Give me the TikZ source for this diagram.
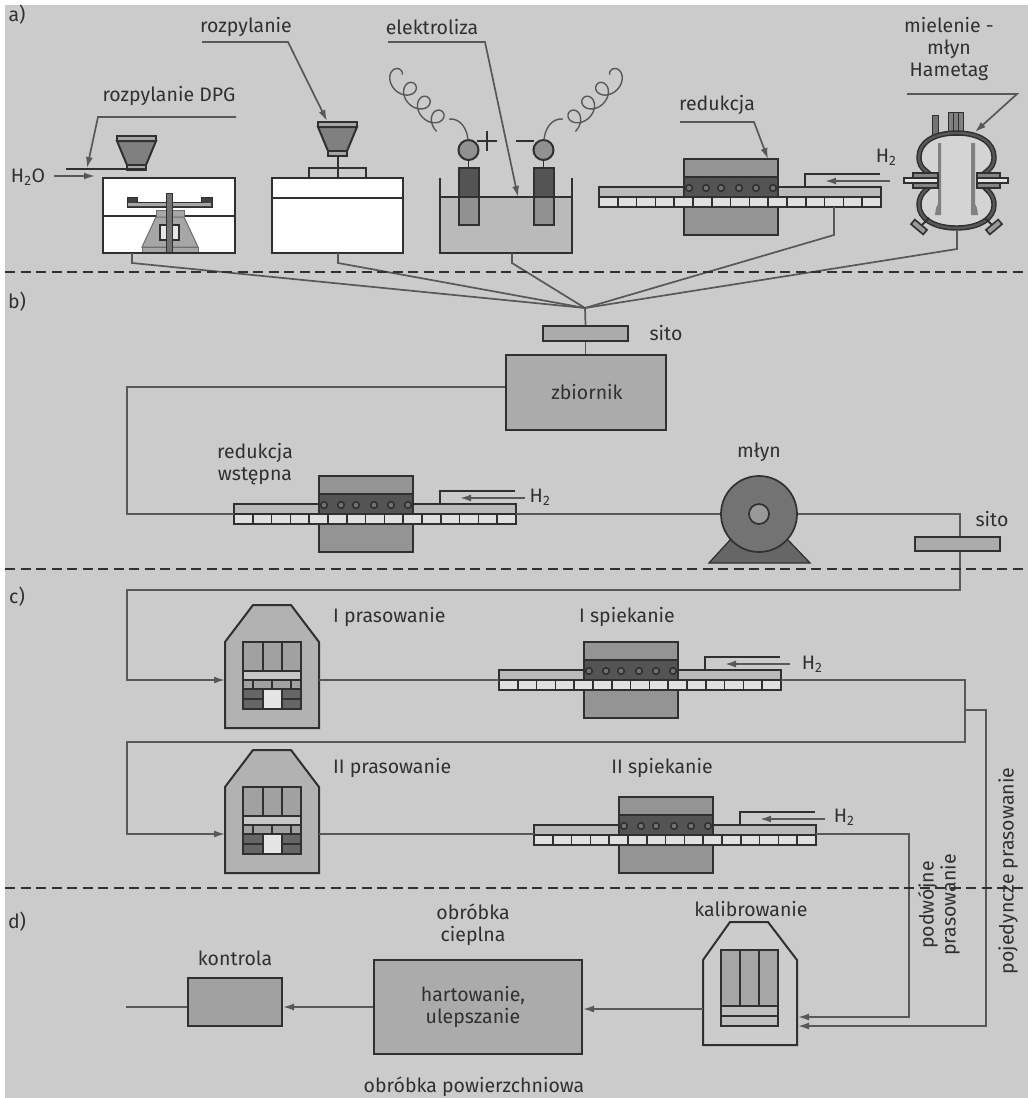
\documentclass[tikz,border=0pt]{standalone}
\usepackage{fontspec}
\setmainfont{Fira Sans}
\usetikzlibrary{arrows.meta}
\definecolor{bgc}{HTML}{CBCBCB}
\definecolor{ink}{HTML}{303030}
\definecolor{wire}{HTML}{585858}
\tikzset{
 x=1pt,y=-1pt,
 lbl/.style={font=\fontsize{19.5}{22}\selectfont,text=ink,inner sep=0pt,align=center},
 lblm/.style={lbl,font=\fontsize{19.5}{22}\selectfont},
 wirel/.style={draw=wire,line width=1.7pt,line join=miter},
 arr/.style={wirel,-{Latex[length=11pt,width=7pt]}},
 part/.style={draw=ink,line width=2pt,line join=miter},
 thin part/.style={draw=ink,line width=1.6pt},
 boxa/.style={part,fill=#1,inner sep=0pt},
 furnace/.pic={
  \filldraw[part,fill=black!42] (85,-38) rectangle (179,38);
  \filldraw[part,fill=black!27] (0,-10) rectangle (282,0);
  \filldraw[part,fill=black!67] (85,-20) rectangle (179,0);
  \foreach \cx in {90,107,122,140,157,174} \draw[line width=1.6pt,draw=ink,fill=black!55] (\cx,-9) circle (3.3);
  \filldraw[part,fill=black!12] (0,0) rectangle (282,10);
  \foreach \i in {1,...,14} \draw[thin part] ({\i*18.8},0) -- ({\i*18.8},10);
  \draw[part] (206,-10) -- (206,-23) -- (281,-23);
  \draw[arr] (291,-16) -- (226,-16);
 },
 press/.pic={
  \filldraw[part,fill=black!30] (0,48) -- (0,-38) -- (28,-75) -- (66,-75) -- (94,-38) -- (94,48) -- cycle;
  \filldraw[part,fill=black!37] (18,-38) rectangle (76,29);
  \draw[part] (38,-38) -- (38,-9) (57,-38) -- (57,-9) (18,-9) -- (76,-9);
  \fill[black!22] (19,-8) rectangle (75,0);
  \draw[thin part] (18,0) -- (76,0) (18,9) -- (76,9) (28,0) -- (28,9) (47,0) -- (47,9) (66,0) -- (66,9);
  \filldraw[thin part,fill=black!60] (18,9) rectangle (38,19);
  \filldraw[thin part,fill=black!60] (18,19) rectangle (38,29);
  \filldraw[thin part,fill=black!60] (57,9) rectangle (76,19);
  \filldraw[thin part,fill=black!60] (57,19) rectangle (76,29);
  \fill[black!10] (39,10) rectangle (56,28);
  \draw[part] (18,-38) rectangle (76,29);
 },
 hopper/.pic={
  \filldraw[part,fill=black!50] (0,5) -- (39,5) -- (29,29) -- (10,29) -- cycle;
  \filldraw[thin part,fill=black!35] (0,0) rectangle (39,5);
  \filldraw[thin part,fill=black!35] (10,29) rectangle (29,34);
 },
 coil/.pic={
  \draw[wire,line width=1.4pt] (468,140) .. controls (467,128) and (460,118) .. (449,119);
  \draw[wire,line width=1.4pt,smooth] plot[domain=-90:1210,samples=220]
   ({443 - 0.0385*(\x+90) - 10*cos(\x)*0.71 + 9*sin(\x)*0.71},
    {125 - 0.0385*(\x+90) - 10*cos(\x)*0.71 - 9*sin(\x)*0.71});
 }
}
\begin{document}
\begin{tikzpicture}
\useasboundingbox (0,0) rectangle (1028,1098);
\fill[white] (0,0) rectangle (1028,1098);
\fill[bgc] (5,5) rectangle (1028,1098);

% ---------- named junctions
\coordinate (conv) at (585,308);

% ---------- a) DPG atomiser
\node[part,fill=white,minimum width=132pt,minimum height=75pt,inner sep=0pt] (dpg) at (169,215.5) {};
\draw[part] (103,216) -- (235,216);
\pic at (117,136) {hopper};
\coordinate (dpgshelfL) at (66,169);
\coordinate (dpgshelfR) at (146,169);
\draw[part] (dpgshelfL) -- (dpgshelfR);
% mechanism
\filldraw[draw=ink!70,line width=1pt,fill=black!35] (156,210) rectangle (184,217);
\filldraw[draw=ink!70,line width=1pt,fill=black!35] (156,217) -- (184,217) -- (198,247) -- (142,247) -- cycle;
\filldraw[draw=ink!70,line width=1pt,fill=black!35] (142,247) rectangle (198,253);
\filldraw[part,fill=black!10] (160,225) rectangle (179,240);
\filldraw[draw=ink,line width=.8pt,fill=black!75] (127,197) -- (137,197) -- (137,202) -- (201,202) -- (201,197) -- (212,197) -- (212,207) -- (127,207) -- cycle;
\fill[black!35] (128,203) rectangle (211,205.5);
\filldraw[draw=ink,line width=1pt,fill=black!55] (166,193) rectangle (172,253);
\draw[part] (103,178) rectangle (235,253);

% ---------- a) atomiser
\pic at (318,122) {hopper};
\coordinate (stemA) at (338,156);
\node[part,fill=bgc,minimum width=57pt,minimum height=10pt,inner sep=0pt] (cap) at (337.5,173) {};
\node[part,fill=white,minimum width=131pt,minimum height=75pt,inner sep=0pt] (atom) at (337.5,215.5) {};
\draw[part] (272,198) -- (403,198);
\draw[thin part] (stemA) -- (338,178);

% ---------- a) electrolysis
\fill[black!27] (440,197) rectangle (572,253);
\draw[part] (440,178) -- (440,253) -- (572,253) -- (572,178);
\draw[thin part] (440,197) -- (572,197);
\foreach \ex/\cx in {459/468.5,534/543.5}{
 \fill[black!43] (\ex,197) rectangle ++(19.5,28);
 \fill[black!67] (\ex,168) rectangle ++(19.5,29);
 \draw[part] (\ex,168) rectangle ++(19.5,57);
 \draw[thin part] (\cx,160) -- (\cx,168);
 \filldraw[part,fill=black!43] (\cx,150) circle (10);
}
\draw[thin part] (459,197) -- (478.5,197) (534,197) -- (553.5,197);
\pic at (0,0) {coil};
\begin{scope}[xshift=1012pt,xscale=-1]\pic[transform shape] at (0,0) {coil};\end{scope}
\draw[ink,line width=1.4pt] (477,141) -- (497,141) (487,131) -- (487,151) (516,141) -- (534,141);

% ---------- furnaces
\pic at (599,197) {furnace};
\pic at (234,514) {furnace};
\pic at (499,680) {furnace};
\pic at (534,835) {furnace};

% ---------- Hametag mill
\fill[black!17] (956.5,133) .. controls (980,133) and (994,143) .. (994,157) .. controls (994,172) and (982,170) .. (981,180) .. controls (982,190) and (994,190) .. (994,205) .. controls (994,218) and (980,228) .. (956.5,228) .. controls (933,228) and (919,218) .. (919,205) .. controls (919,190) and (931,190) .. (932,180) .. controls (931,170) and (919,172) .. (919,157) .. controls (919,143) and (933,133) .. cycle;
\filldraw[draw=ink,line width=1pt,fill=black!55] (932,115) rectangle (938,135);
\filldraw[draw=ink,line width=1pt,fill=black!50] (948,112) rectangle (963,135);
\draw[draw=ink,line width=1pt] (953,112) -- (953,135) (958,112) -- (958,135);
\fill[black!50] (938,143) -- (941,143) -- (941,215) -- (935,215) -- (936,208) -- (938,204) -- cycle;
\fill[black!50] (971,143) -- (975,143) -- (975,204) -- (977,208) -- (978,215) -- (971,215) -- cycle;
\foreach \w/\c in {5.4pt/ink,2.4pt/wire}
 \draw[draw=\c,line width=\w] (956.5,133) .. controls (980,133) and (994,143) .. (994,157) .. controls (994,172) and (982,170) .. (981,180) .. controls (982,190) and (994,190) .. (994,205) .. controls (994,218) and (980,228) .. (956.5,228) .. controls (933,228) and (919,218) .. (919,205) .. controls (919,190) and (931,190) .. (932,180) .. controls (931,170) and (919,172) .. (919,157) .. controls (919,143) and (933,133) .. cycle;
\filldraw[thin part,fill=black!48] (913,173) rectangle (938,188);
\filldraw[thin part,fill=black!48] (977,173) rectangle (1000,188);
\filldraw[thin part,fill=black!10] (904,178) rectangle (938,183);
\filldraw[thin part,fill=black!10] (977,178) rectangle (1008,183);
\draw[part] (929,218) -- (921,226) (985,218) -- (993,226);
\filldraw[thin part,fill=black!40,rotate around={-40:(919,227)}] (911,224) rectangle (927,230);
\filldraw[thin part,fill=black!40,rotate around={40:(994,227)}] (986,224) rectangle (1002,230);

% ---------- pressing
\pic at (225,680) {press};
\pic at (225,825) {press};
% calibration
\filldraw[part,fill=black!20] (703,1045) -- (703,960) -- (730,922) -- (768,922) -- (797,960) -- (797,1045) -- cycle;
\filldraw[part,fill=black!35] (721,950) rectangle (778,1006);
\draw[part] (740,950) -- (740,1006) (759,950) -- (759,1006);
\filldraw[part,fill=black!25] (721,1006) rectangle (778,1016);
\filldraw[part,fill=black!25] (721,1016) rectangle (778,1026);

% ---------- b) nodes
\node[boxa=black!33,minimum width=85pt,minimum height=15pt] (sita) at (585.5,333.5) {};
\node[boxa=black!33,minimum width=160pt,minimum height=75pt] (zb) at (586,392.5) {};
\node[lbl] (zbt) at (587,392) {zbiornik};
\node[boxa=black!33,minimum width=85pt,minimum height=14pt] (sitb) at (957.5,544) {};
% mill
\coordinate (millc) at (759,514);
\filldraw[line width=1.3pt,draw=ink,fill=black!60] (730,540) -- (709,563) -- (810,563) -- (788,540) -- cycle;
\node[circle,draw=ink,line width=1.7pt,fill=black!55,minimum size=76pt,inner sep=0pt] (mill) at (millc) {};
\node[circle,draw=ink,line width=1.7pt,fill=black!40,minimum size=20pt,inner sep=0pt] (millh) at (millc) {};

% ---------- d) boxes
\node[boxa=black!33,minimum width=208pt,minimum height=94pt] (hart) at (478,1007) {};
\node[boxa=black!37,minimum width=94pt,minimum height=48pt] (kontr) at (235,1002) {};

% ---------- connectors
\coordinate (o1) at (132,253); \coordinate (o2) at (338,253); \coordinate (o3) at (512,253);
\coordinate (o4) at (834,207); \coordinate (o5) at (957,231);
\draw[wirel] (o1) -- ++(0,10) -- (conv);
\draw[wirel] (o2) -- ++(0,10) -- (conv);
\draw[wirel] (o3) -- ++(0,10) -- (conv);
\draw[wirel] (o4) -- ++(0,28) -- (conv);
\draw[wirel] (o5) -- ++(0,18) -- (conv);
\draw[wirel] (conv) -- (sita.north);
\draw[wirel] (sita.south) -- (zb.north -| sita.south);
\coordinate (zbL) at (zb.west |- 0,387);
\coordinate (f2L) at (234,514); \coordinate (f2R) at (516,514);
\draw[wirel] (zbL) -- (127,387) -- (127,514) -- (f2L);
\draw[wirel] (f2R) -- (mill.west);
\coordinate (sitbT) at (sitb.north -| 960,0); \coordinate (sitbB) at (sitb.south -| 960,0);
\draw[wirel] (mill.east) -- (960,514) -- (sitbT);
\coordinate (pressIin) at (225,680); \coordinate (pressIout) at (319,680);
\coordinate (f3L) at (499,680); \coordinate (f3R) at (781,680);
\draw[arr] (sitbB) -- (960,590) -- (127,590) -- (127,680) -- (pressIin);
\draw[wirel] (pressIout) -- (f3L);
\coordinate (pressIIin) at (225,834); \coordinate (pressIIout) at (319,834);
\coordinate (f4L) at (534,834); \coordinate (f4R) at (816,834);
\coordinate (kalA) at (798,1017); \coordinate (kalB) at (798,1026); \coordinate (kalL) at (703,1009);
\draw[arr] (f3R) -- (965,680) -- (965,742) -- (127,742) -- (127,834) -- (pressIIin);
\draw[wirel] (pressIIout) -- (f4L);
\draw[arr] (965,710) -- (986,710) -- (986,1026) -- (kalB);
\draw[arr] (f4R) -- (909,834) -- (909,1017) -- (kalA);
\draw[arr] (kalL) -- (hart.east |- kalL);
\coordinate (hartL) at (hart.west |- 0,1007); \coordinate (kontrR) at (kontr.east |- 0,1007);
\coordinate (kontrL) at (kontr.west |- 0,1007); \coordinate (endK) at (126,1007);
\draw[arr] (hartL) -- (kontrR);
\draw[wirel] (kontrL) -- (endK);

% ---------- leaders
\coordinate (lA) at (236,117); \coordinate (tA) at (87,168);
\draw[arr] (lA) -- (98,117) -- (tA);
\coordinate (lB) at (202,42); \coordinate (tB) at (327,121);
\draw[arr] (lB) -- (288,42) -- (tB);
\coordinate (lC) at (388,42); \coordinate (tC) at (518,197);
\draw[arr] (lC) -- (485,42) -- (tC);
\coordinate (lD) at (680,122); \coordinate (tD) at (768,159);
\draw[arr] (lD) -- (754,122) -- (tD);
\coordinate (lE) at (907,94); \coordinate (tE) at (975,132);
\draw[arr] (lE) -- (1017,94) -- (tE);
\coordinate (h2A) at (54,176); \coordinate (h2B) at (95,176);
\draw[arr] (h2A) -- (h2B);

% ---------- dashed separators
\foreach \y in {272,569,888}
 \draw[ink,line width=1.5pt,dash pattern=on 10pt off 5.5pt] (5,\y) -- (1028,\y);

% ---------- texts
\node[lbl] (ta) at (17,15) {a)};
\node[lbl] (tb) at (17,302) {b)};
\node[lbl] (tc) at (17,597) {c)};
\node[lbl] (td) at (17,922) {d)};
\node[lbl] (t1) at (169,96) {rozpylanie DPG};
\node[lbl] (t2) at (246,27) {rozpylanie};
\node[lbl] (t3) at (432,27) {elektroliza};
\node[lbl] (t4) at (717,105) {redukcja};
\node[lblm] (t5) at (949,49) {mielenie -\\młyn\\Hametag};
\node[lbl] (h2o) at (28,177) {H\textsubscript{2}O};
\node[lbl] (h1) at (886,157) {H\textsubscript{2}};
\node[lbl] (h2) at (540,497) {H\textsubscript{2}};
\node[lbl] (h3) at (812,664) {H\textsubscript{2}};
\node[lbl] (h4) at (844,817) {H\textsubscript{2}};
\node[lbl] (t6) at (666,333) {sito};
\node[lblm] (t7) at (255,464) {redukcja\\wstępna};
\node[lbl] (t8) at (759,452) {młyn};
\node[lbl] (t9) at (992,519) {sito};
\node[lbl,anchor=west] (t10) at (333,617) {I prasowanie};
\node[lbl,anchor=west] (t11) at (333,768) {II prasowanie};
\node[lbl] (t12) at (627,617) {I spiekanie};
\node[lbl] (t13) at (662,768) {II spiekanie};
\node[lbl] (t14) at (751,909) {kalibrowanie};
\node[lblm] (t15) at (473,925) {obróbka\\cieplna};
\node[lblm] (t16) at (473,1007) {hartowanie,\\ulepszanie};
\node[lbl] (t17) at (474,1087) {obróbka powierzchniowa};
\node[lbl] (t18) at (235,958) {kontrola};
\node[lblm,rotate=90] (t19) at (939,905) {podwójne\\prasowanie};
\node[lbl,rotate=90] (t20) at (1008,871) {pojedyncze prasowanie};
\end{tikzpicture}
\end{document}
